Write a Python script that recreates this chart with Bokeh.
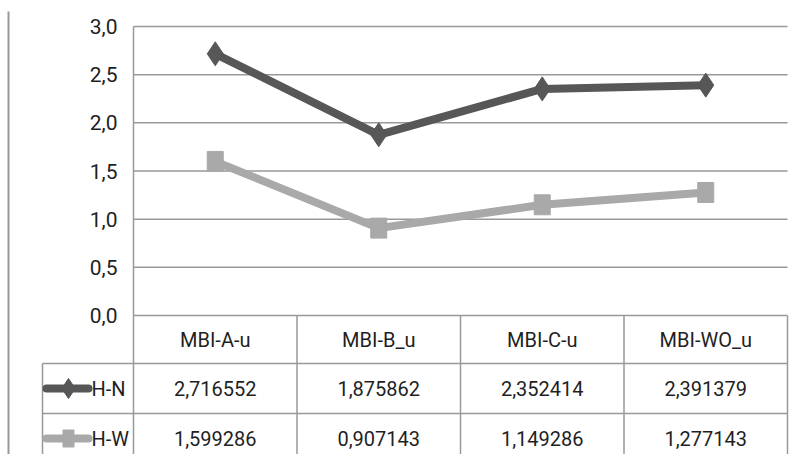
from bokeh.plotting import figure
from bokeh.models import Range1d, ColumnDataSource
from bokeh.core.properties import value
from bokeh.embed import file_html
from bokeh.resources import INLINE

# ---- data ----
categories = ["MBI-A-u", "MBI-B_u", "MBI-C-u", "MBI-WO_u"]
series_names = ["H-N", "H-W"]
hn_values = [2.716552, 1.875862, 2.352414, 2.391379]
hw_values = [1.599286, 0.907143, 1.149286, 1.277143]
y_ticks = [0.0, 0.5, 1.0, 1.5, 2.0, 2.5, 3.0]

# ---- styles / layout ----
FONT = "Roboto"
TEXT_COLOR = "#1f1f1f"
GRID_COLOR = "#999999"
HN_COLOR = "#575757"
HW_COLOR = "#a9a9a9"
W, H = 798, 454
PLOT_L, PLOT_R, PLOT_T, PLOT_B = 133, 787, 26, 315   # chart area in canvas px
n = len(categories)
y_max = y_ticks[-1]
ux = (PLOT_R - PLOT_L) / n          # px per category
uy = (PLOT_B - PLOT_T) / y_max      # px per value unit


def px_x(px):
    return (px - PLOT_L) / ux


def px_y(py):
    return (PLOT_B - py) / uy


p = figure(width=W, height=H,
           x_range=Range1d(px_x(0), px_x(W)), y_range=Range1d(px_y(H), px_y(0)),
           output_backend="svg", toolbar_location=None,
           x_axis_location=None, y_axis_location=None,
           min_border_left=0, min_border_right=0, min_border_top=0, min_border_bottom=0)
p.outline_line_color = None
p.grid.visible = False

xs = [i + 0.5 for i in range(n)]
fmt = lambda v: f"{v:.6f}".replace(".", ",")
src = ColumnDataSource(dict(x=xs, hn=hn_values, hw=hw_values, cat=categories,
                            hn_txt=[fmt(v) for v in hn_values],
                            hw_txt=[fmt(v) for v in hw_values]))

LW = 1.5
bottom = px_y(H + 5)
row1, row2 = px_y(363), px_y(413)
leg_left = px_x(42)

# outer left rule
p.segment(x0=[px_x(8)], y0=[px_y(11)], x1=[px_x(8)], y1=[bottom], line_color=GRID_COLOR, line_width=2)

# horizontal gridlines (0 line is the top of the table)
p.segment(x0=[0] * len(y_ticks), y0=y_ticks, x1=[n] * len(y_ticks), y1=y_ticks,
          line_color=GRID_COLOR, line_width=LW)
# chart left border / table column lines
p.segment(x0=[0], y0=[y_max], x1=[0], y1=[bottom], line_color=GRID_COLOR, line_width=LW)
vx = list(range(1, n + 1))
p.segment(x0=vx, y0=[0] * len(vx), x1=vx, y1=[bottom] * len(vx), line_color=GRID_COLOR, line_width=LW)
p.segment(x0=[leg_left], y0=[row1], x1=[leg_left], y1=[bottom], line_color=GRID_COLOR, line_width=LW)
p.segment(x0=[leg_left, leg_left], y0=[row1, row2], x1=[n, n], y1=[row1, row2],
          line_color=GRID_COLOR, line_width=LW)

# y tick labels
p.text(x=[px_x(117)] * len(y_ticks), y=y_ticks,
       text=[f"{t:.1f}".replace(".", ",") for t in y_ticks],
       text_font=value(FONT), text_font_size="21px", text_color=TEXT_COLOR,
       text_align="right", text_baseline="middle")

# series
p.line("x", "hn", source=src, line_color=HN_COLOR, line_width=8, line_join="round")
p.scatter("x", "hn", source=src, marker="diamond", size=24,
          fill_color=HN_COLOR, line_color=HN_COLOR)
p.line("x", "hw", source=src, line_color=HW_COLOR, line_width=8, line_join="round")
p.rect("x", "hw", source=src, width=16, height=20, width_units="screen",
       height_units="screen", fill_color=HW_COLOR, line_color=HW_COLOR)

# table texts
hdr_y, hn_y, hw_y = px_y(339), px_y(388), px_y(438)
for col, yy in (("cat", hdr_y), ("hn_txt", hn_y), ("hw_txt", hw_y)):
    p.text(x="x", y=yy, text=col, source=src, text_font=value(FONT), text_font_size="20px",
           text_color=TEXT_COLOR, text_align="center", text_baseline="middle")

# legend keys in the table
ix0, ix1, imid, lab_x = px_x(46), px_x(88), px_x(68), px_x(91)
p.segment(x0=[ix0], y0=[hn_y], x1=[ix1], y1=[hn_y], line_color=HN_COLOR, line_width=8, line_cap="round")
p.scatter(x=[imid], y=[hn_y], marker="diamond", size=20, fill_color=HN_COLOR, line_color=HN_COLOR)
p.segment(x0=[ix0], y0=[hw_y], x1=[ix1], y1=[hw_y], line_color=HW_COLOR, line_width=8, line_cap="round")
p.rect(x=[imid], y=[hw_y], width=11, height=17, width_units="screen", height_units="screen",
       fill_color=HW_COLOR, line_color=HW_COLOR)
p.text(x=[lab_x, lab_x], y=[hn_y, hw_y], text=series_names, text_font=value(FONT),
       text_font_size="20px", text_color=TEXT_COLOR, text_align="left", text_baseline="middle")

open("out.html", "w").write(file_html(p, INLINE))
